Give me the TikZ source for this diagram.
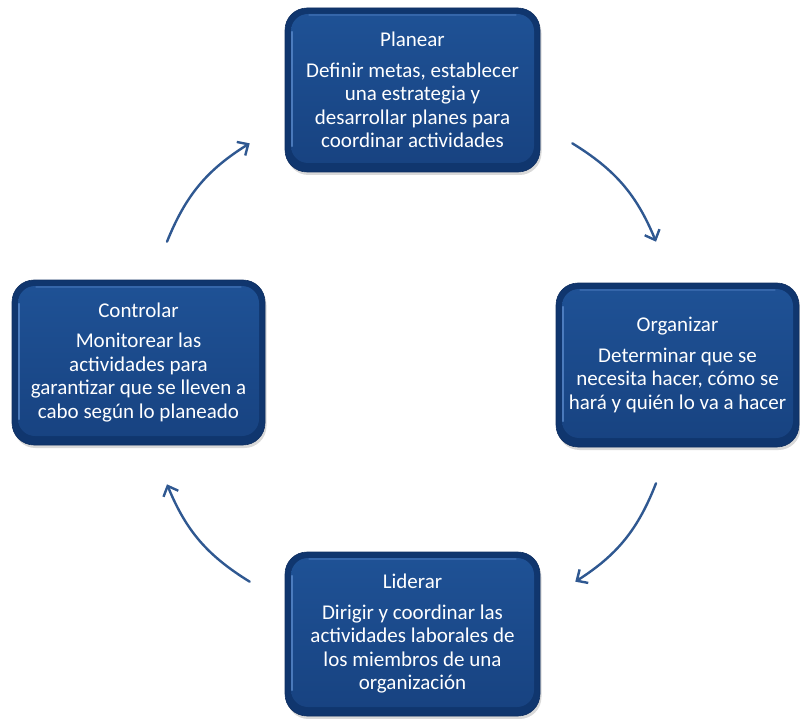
\documentclass[tikz,border=0pt]{standalone}
\usepackage{fontspec}
\setmainfont{Carlito}
\usetikzlibrary{arrows.meta,shadows,calc}

\definecolor{rimblue}{RGB}{16,54,110}
\definecolor{edgeblue}{RGB}{14,46,96}
\definecolor{facetop}{RGB}{31,82,150}
\definecolor{facebot}{RGB}{23,66,128}
\definecolor{glint}{RGB}{96,144,210}
\definecolor{arrowblue}{RGB}{47,88,145}

\tikzset{
  stage/.style={
    rounded corners=22pt, draw=edgeblue, line width=0.6pt, fill=rimblue,
    text=white, align=center, inner sep=0pt,
    font=\fontsize{21}{23.5}\selectfont,
    drop shadow={opacity=0.3, shadow xshift=1.5pt, shadow yshift=-3pt},
    path picture={
      \shade[top color=facetop, bottom color=facebot, rounded corners=17pt]
        ([shift={(6pt,-6pt)}]path picture bounding box.north west)
        rectangle ([shift={(-6pt,9pt)}]path picture bounding box.south east);
      \draw[glint, line width=2.2pt, opacity=0.7, line cap=round]
        ([shift={(7pt,-24pt)}]path picture bounding box.north west)
        -- ([shift={(7pt,26pt)}]path picture bounding box.south west);
      \draw[glint, line width=1.2pt, opacity=0.35, line cap=round]
        ([shift={(24pt,-7pt)}]path picture bounding box.north west)
        -- ([shift={(-24pt,-7pt)}]path picture bounding box.north east);
    }
  },
  cycle arrow/.style={
    draw=arrowblue, line width=2.4pt, line cap=round,
    -{Straight Barb[length=8.5pt,width=16pt,line width=2.4pt]}
  }
}

\begin{document}
\begin{tikzpicture}[x=1pt,y=-1pt]
  \useasboundingbox (0,0) rectangle (800,719);

  \node[stage, minimum width=255pt, minimum height=164pt] (plan) at (412.5,90)
    {Planear\\[7pt]Definir metas, establecer\\una estrategia y\\desarrollar planes para\\coordinar actividades};
  \node[stage, minimum width=243pt, minimum height=164pt] (org) at (677.5,365)
    {Organizar\\[7pt]Determinar que se\\necesita hacer, cómo se\\hará y quién lo va a hacer};
  \node[stage, minimum width=255pt, minimum height=164pt] (lid) at (412.5,634)
    {Liderar\\[7pt]Dirigir y coordinar las\\actividades laborales de\\los miembros de una\\organización};
  \node[stage, minimum width=253pt, minimum height=165pt] (ctrl) at (138.5,362.5)
    {Controlar\\[7pt]Monitorear las\\actividades para\\garantizar que se lleven a\\cabo según lo planeado};

  % cycle: plan -> organize -> lead -> control -> plan
  \draw[cycle arrow] ([shift={(32,-29)}]plan.south east) to[bend left=18]
    ([shift={(-21.5,-41)}]org.north);
  \draw[cycle arrow] ([shift={(-21.5,36)}]org.south) to[bend left=18]
    ([shift={(35,30)}]lid.north east);
  \draw[cycle arrow] ([shift={(-35,30)}]lid.north west) to[bend left=18]
    ([shift={(28.5,39)}]ctrl.south);
  \draw[cycle arrow] ([shift={(28.5,-38)}]ctrl.north) to[bend left=18]
    ([shift={(-35,-29)}]plan.south west);
\end{tikzpicture}
\end{document}
